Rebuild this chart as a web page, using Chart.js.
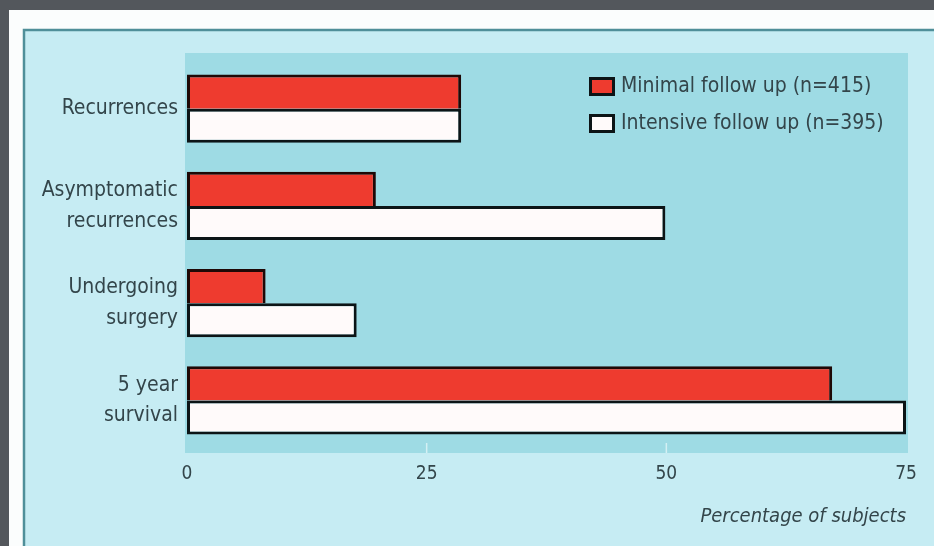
<!DOCTYPE html>
<html>
<head>
<meta charset="utf-8">
<script src="https://cdn.jsdelivr.net/npm/chart.js@4"></script>
<style>
  html, body { margin: 0; padding: 0; background: #53575c; }
  canvas { display: block; }
</style>
</head>
<body>
<canvas id="grafico" width="934" height="546"></canvas>
<script>
// categorias e valores (% de sujeitos)
const categories = ["Recurrences", ["Asymptomatic", "recurrences"], ["Undergoing", "surgery"], ["5 year", "survival"]];
const minimalValues = [28.6, 19.7, 8.2, 67.3];
const intensiveValues = [28.6, 49.9, 17.7, 75];
const seriesLabels = ["Minimal follow up (n=415)", "Intensive follow up (n=395)"];
const xTicks = [0, 25, 50, 75];

const FONT = "'Liberation Sans Narrow', 'DejaVu Sans Condensed', 'Liberation Sans', sans-serif";
const TEXT = "#33454a";

// moldura, fundo do painel e da area do grafico
const fundo = {
    id: "fundo",
    beforeDraw(chart) {
        const c = chart.ctx;
        const a = chart.chartArea;
        const w = chart.width, h = chart.height;
        c.save();
        c.fillStyle = "#53575c";
        c.fillRect(0, 0, w, h);
        c.fillStyle = "#fbfdfd";
        c.fillRect(9, 10, w - 9, h - 10);
        c.fillStyle = "#c6ecf3";
        c.fillRect(23, 29, w - 23, h - 29);
        c.strokeStyle = "#4f8f99";
        c.lineWidth = 2.5;
        c.beginPath();
        c.moveTo(24, h);
        c.lineTo(24, 30);
        c.lineTo(w, 30);
        c.stroke();
        c.fillStyle = "#9edbe4";
        c.fillRect(a.left - 2, a.top - 7, a.right - a.left + 4, a.bottom - a.top + 11);
        // marquinhas do eixo x
        const x = chart.scales.x;
        c.strokeStyle = "#d4f0f4";
        c.lineWidth = 1.5;
        [25, 50].forEach(v => {
            const px = x.getPixelForValue(v);
            c.beginPath();
            c.moveTo(px, a.bottom - 6);
            c.lineTo(px, a.bottom + 4);
            c.stroke();
        });
        c.restore();
    }
};

// legenda desenhada dentro da area
const legenda = {
    id: "legenda",
    afterDatasetsDraw(chart) {
        const c = chart.ctx;
        c.save();
        c.font = "21px " + FONT;
        c.textBaseline = "middle";
        c.textAlign = "left";
        chart.data.datasets.forEach((ds, i) => {
            const y = 77 + i * 37;
            c.fillStyle = ds.backgroundColor;
            c.fillRect(589, y, 26, 19);
            c.strokeStyle = "#0c1416";
            c.lineWidth = 3;
            c.strokeRect(590.5, y + 1.5, 23, 16);
            c.fillStyle = TEXT;
            c.fillText(ds.label, 621, y + 10);
        });
        c.restore();
    }
};

new Chart(document.getElementById("grafico"), {
    type: "bar",
    data: {
        labels: categories,
        datasets: [
            {
                label: seriesLabels[0],
                data: minimalValues,
                backgroundColor: "#ee3b2f",
                borderColor: "#1e0806",
                borderWidth: { top: 3, right: 3, bottom: 0, left: 3 },
                borderSkipped: false,
                categoryPercentage: 0.7,
                barPercentage: 1.0
            },
            {
                label: seriesLabels[1],
                data: intensiveValues,
                backgroundColor: "#fffafa",
                borderColor: "#0c1416",
                borderWidth: 3,
                borderSkipped: false,
                categoryPercentage: 0.7,
                barPercentage: 1.0
            }
        ]
    },
    options: {
        indexAxis: "y",
        responsive: false,
        devicePixelRatio: 1,
        animation: false,
        layout: { padding: { left: 23, right: 28, top: 60, bottom: 16 } },
        plugins: {
            legend: { display: false },
            tooltip: { enabled: false }
        },
        scales: {
            x: {
                min: 0,
                max: 75,
                afterBuildTicks: s => { s.ticks = xTicks.map(v => ({ value: v })); },
                afterFit: s => { s.height = 81; },
                grid: { display: false },
                border: { display: false },
                ticks: {
                    color: TEXT,
                    font: { family: FONT, size: 19 },
                    padding: 6
                },
                title: {
                    display: true,
                    text: "Percentage of subjects",
                    align: "end",
                    color: TEXT,
                    font: { family: FONT, size: 20, style: "italic" },
                    padding: { top: 0, bottom: 1 }
                }
            },
            y: {
                afterFit: s => { s.width = 164; },
                grid: { display: false },
                border: { display: false },
                ticks: {
                    color: TEXT,
                    font: { family: FONT, size: 21, lineHeight: 1.45 },
                    padding: 1
                }
            }
        }
    },
    plugins: [fundo, legenda]
});
</script>
</body>
</html>
